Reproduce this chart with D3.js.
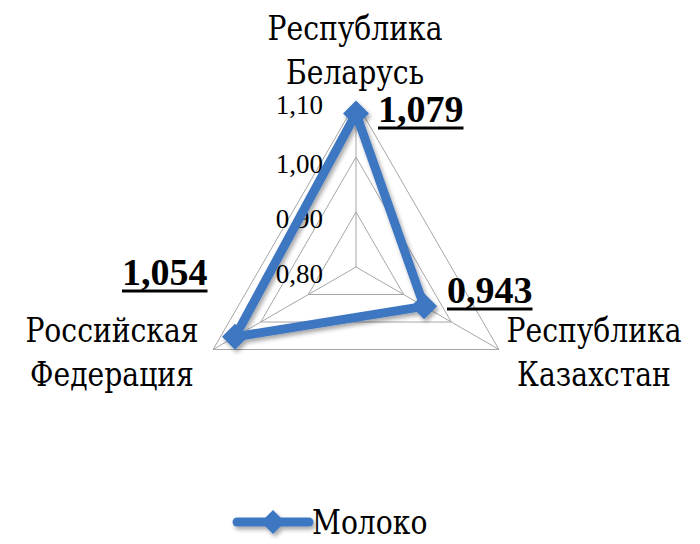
<!doctype html>
<html>
<head>
<meta charset="utf-8">
<title>Молоко</title>
<script src="https://cdn.jsdelivr.net/npm/d3@7"></script>
<style>
  body { margin: 0; background: #fff; }
</style>
</head>
<body>
<div id="chart"></div>
<script>
var categories = [["Республика", "Беларусь"], ["Республика", "Казахстан"], ["Российская", "Федерация"]];
var values = [1.079, 0.943, 1.054];
var tickValues = [0.8, 0.9, 1.0, 1.1];
var seriesName = "Молоко";

var width = 700, height = 544;
var cx = 356, cy = 267;
var blue = "#3e76c1";
var serif = "'Liberation Serif', 'Times New Roman', serif";
var cyrSerif = "'DejaVu Serif', serif";

var svg = d3.select("#chart").append("svg").attr("width", width).attr("height", height)
    .attr("font-family", serif);

var defs = svg.append("defs");
defs.append("filter").attr("id", "shadow").attr("x", "-20%").attr("y", "-20%").attr("width", "140%").attr("height", "140%")
    .append("feDropShadow").attr("dx", 2).attr("dy", 3).attr("stdDeviation", 2)
    .attr("flood-color", "#000").attr("flood-opacity", 0.35);

var r = d3.scaleLinear().domain([0.8, 1.1]).range([0, 165]);
var angle = d3.scaleOrdinal().domain([0, 1, 2]).range([-Math.PI / 2, Math.PI / 6, Math.PI * 5 / 6]);
var fmt = function(v, p){ return d3.format("." + p + "f")(v).replace(".", ","); };

function pt(i, v) {
    var a = angle(i);
    return [cx + r(v) * Math.cos(a), cy + r(v) * Math.sin(a)];
}

// Cyrillic text in a narrowed DejaVu Serif (Liberation Serif here has no Cyrillic)
function cyrText(x, y, str, size, anchor) {
    return svg.append("text")
        .attr("transform", "translate(" + x + "," + y + ") scale(0.83,1)")
        .attr("font-family", cyrSerif)
        .attr("font-size", size + "px").attr("text-anchor", anchor).text(str);
}

var g = svg.append("g");

// grid triangles
tickValues.slice(1).forEach(function(t){
    g.append("path")
        .attr("d", d3.line()(d3.range(3).map(function(i){ return pt(i, t); })) + "Z")
        .attr("fill", "none").attr("stroke", "#a6a6a6").attr("stroke-width", 1);
});
// spokes
d3.range(3).forEach(function(i){
    var p = pt(i, 1.1);
    g.append("line").attr("x1", cx).attr("y1", cy).attr("x2", p[0]).attr("y2", p[1])
        .attr("stroke", "#a6a6a6").attr("stroke-width", 1);
});

// axis labels
tickValues.forEach(function(t){
    g.append("text").attr("x", cx - 33).attr("y", cy - r(t) + (t > 1.05 ? 12 : 16))
        .attr("text-anchor", "end").attr("font-size", "27px").text(fmt(t, 2));
});

// series
var series = svg.append("g").attr("filter", "url(#shadow)");
var pts = values.map(function(v, i){ return pt(i, v); });
series.append("path")
    .attr("d", d3.line()(pts) + "Z")
    .attr("fill", "none").attr("stroke", blue).attr("stroke-width", 9).attr("stroke-linejoin", "round");

function diamond(s) {
    return "M0," + (-s) + "L" + s + ",0L0," + s + "L" + (-s) + ",0Z";
}
series.selectAll("path.marker").data(pts).enter().append("path")
    .attr("class", "marker")
    .attr("transform", function(d){ return "translate(" + d[0] + "," + d[1] + ")"; })
    .attr("d", diamond(13)).attr("fill", blue);

// category labels
var catPos = [[355, 40], [594, 342], [112, 342]];
categories.forEach(function(c, i){
    c.forEach(function(line, j){
        cyrText(catPos[i][0], catPos[i][1] + j * 44, line, 34, "middle");
    });
});

// value labels
var valPos = [[378, 122], [447, 303], [122, 285]];
values.forEach(function(v, i){
    var t = svg.append("text").attr("x", valPos[i][0]).attr("y", valPos[i][1])
        .attr("font-size", "38px").attr("font-weight", "bold").text(fmt(v, 3));
    var w = t.node().getComputedTextLength();
    svg.append("line").attr("x1", valPos[i][0]).attr("x2", valPos[i][0] + w)
        .attr("y1", valPos[i][1] + 6).attr("y2", valPos[i][1] + 6)
        .attr("stroke", "#000").attr("stroke-width", 3);
});

// legend
var legend = svg.append("g").attr("transform", "translate(237,522)").attr("filter", "url(#shadow)");
legend.append("line").attr("x1", 0).attr("x2", 72).attr("y1", 0).attr("y2", 0)
    .attr("stroke", blue).attr("stroke-width", 9).attr("stroke-linecap", "round");
legend.append("path").attr("transform", "translate(36,0)").attr("d", diamond(12)).attr("fill", blue);
cyrText(312, 534, seriesName, 34, "start");
</script>
</body>
</html>
